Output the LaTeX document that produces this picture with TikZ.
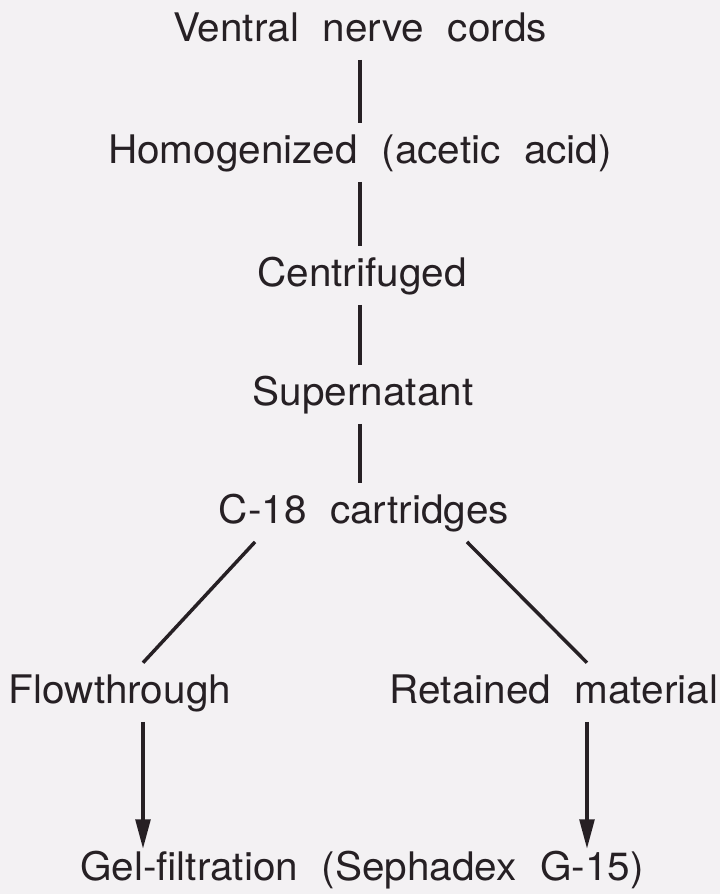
\documentclass[tikz,border=0pt]{standalone}
\usepackage{fontspec}
\setmainfont[FakeStretch=1.03]{TeX Gyre Heros}
\usetikzlibrary{arrows.meta}
\definecolor{paper}{RGB}{243,241,243}
\definecolor{ink}{RGB}{38,32,36}
\newcommand\widegaps{\spaceskip=0.6em\relax}
\begin{document}
\begin{tikzpicture}[x=0.75pt,y=-0.75pt,
  stage/.style={anchor=base,text=ink,font=\fontsize{29.5}{34}\selectfont,
    execute at begin node=\widegaps,
    text height=23pt,text depth=7pt,inner xsep=3pt,inner ysep=7pt},
  link/.style={draw=ink,line width=2.6pt},
  flow/.style={link,-{Triangle[length=22pt,width=11pt]}}]
\useasboundingbox (0,0) rectangle (720,894);
\fill[paper] (0,0) rectangle (720,894);
\node[stage] (vnc) at (360,41) {Ventral nerve cords};
\node[stage] (hom) at (360,163) {Homogenized (acetic acid)};
\node[stage] (cen) at (362,286) {Centrifuged};
\node[stage] (sup) at (363,405) {Supernatant};
\node[stage] (c18) at (364,523) {C-18 cartridges};
\node[stage] (fl) at (120,703) {Flowthrough};
\node[stage] (ret) at (554,703) {Retained material};
\node[stage,text height=21pt,inner ysep=2.25pt] (gel) at (362,880) {Gel-filtration (Sephadex G-15)};
\coordinate (mcol) at (360,0);
\coordinate (lcol) at (143,0);
\coordinate (rcol) at (587,0);
\draw[link] (vnc.south -| mcol) -- (hom.north -| mcol);
\draw[link] (hom.south -| mcol) -- (cen.north -| mcol);
\draw[link] (cen.south -| mcol) -- (sup.north -| mcol);
\draw[link] (sup.south -| mcol) -- (c18.north -| mcol);
\draw[link] ([xshift=-81.75pt]c18.south) -- (fl.north -| lcol);
\draw[link] ([xshift=77.25pt]c18.south) -- (ret.north -| rcol);
\draw[flow] (fl.south -| lcol) -- (gel.north -| lcol);
\draw[flow] (ret.south -| rcol) -- (gel.north -| rcol);
\end{tikzpicture}
\end{document}
